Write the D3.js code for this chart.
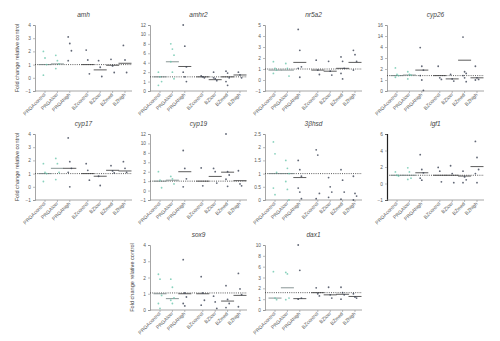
<!DOCTYPE html>
<html>
<head>
<meta charset="utf-8">
<script src="https://cdn.jsdelivr.net/npm/d3@7"></script>
<style>
  html, body { margin: 0; padding: 0; background: #fff; }
  svg { display: block; font-family: "Liberation Sans", Arial, sans-serif; }
</style>
</head>
<body>
<svg id="chart" width="500" height="341"></svg>
<script>
// Treatment groups on every panel's x axis
const groups = ["PRGAcontrol", "PRGAlow", "PRGAhigh", "BZcontrol", "BZlow", "BZmed", "BZhigh"];
const genes = ["amh", "amhr2", "nr5a2", "cyp26", "cyp17", "cyp19", "3βhsd", "igf1", "sox9", "dax1"];

// y tick values per gene (evenly spaced on the axis, including broken-axis steps)
const amhTicks   = [-1, 0, 1, 2, 3, 4];
const amhr2Ticks = [0, 1, 2, 4, 6, 8, 10, 12];
const nr5a2Ticks = [-1, 0, 1, 2, 3, 4, 5];
const cyp26Ticks = [0, 1, 2, 3, 4, 14, 16];
const cyp17Ticks = [-1, 0, 1, 2, 3, 4];
const cyp19Ticks = [-1, 0, 1, 2, 3, 8, 10, 12];
const hsdTicks   = [0, 0.5, 1, 1.5, 2, 2.5];
const igf1Ticks  = [-1, 0, 2, 4, 6];
const sox9Ticks  = [0, 1, 2, 3, 4];
const dax1Ticks  = [0, 1, 2, 3, 6, 8, 10];

// Fold-change values per group (one inner array per treatment group)
const amhValues   = [[2.0, 1.5, 1.0, 0.2], [1.7, 1.3, 1.05, 0.7], [3.1, 2.6, 2.05, 1.3], [2.1, 1.35, 0.3], [1.3, 0.8, 0.1], [1.4, 0.9, 0.4], [2.45, 1.35, 0.4]];
const amhr2Values = [[2.0, 1.5, 1.0, 0.6], [8.0, 6.9, 5.6, 4.2, 2.0, 1.3], [12.0, 7.5, 3.1, 2.0, 1.5, 1.0], [1.6, 1.5, 1.4], [2.0, 1.3, 1.1, 1.4], [2.2, 1.9, 1.4, 1.0, 0.6], [2.0, 1.7, 1.4]];
const nr5a2Values = [[1.67, 1.06, 0.9, 0.6], [1.5, 1.06, 0.36], [4.6, 2.7, 1.2, 1.06, 0.25], [1.8, 0.9, 0.5], [1.7, 0.8, 0.45], [2.1, 1.7, 1.06, 0.6, 0.1], [2.7, 2.3, 1.7, 0.9]];
const cyp26Values = [[2.1, 1.5, 1.4, 1.25], [1.75, 1.5, 1.45, 1.1], [3.95, 2.25, 1.9, 1.4, 1.0, 0.05], [2.25, 1.2, 1.05], [1.5, 1.1, 0.9], [13.0, 1.75, 1.6, 1.4, 1.2, 0.85], [2.25, 1.2, 1.05, 1.0]];
const cyp17Values = [[1.75, 1.1, 1.0, 0.4], [2.15, 1.75, 1.1, 0.55], [3.7, 1.9, 1.4, 1.1, 0.0], [1.75, 1.25, 0.5], [0.8, 0.1], [1.6, 1.2, 1.05], [1.9, 1.4, 1.1]];
const cyp19Values = [[2.0, 1.1, 0.3], [1.5, 1.25, 0.7], [8.5, 2.35, 1.25, 0.4], [2.4, 0.5], [2.35, 2.0, 0.8], [12.0, 2.0, 1.65, 1.2, 0.45], [2.1, 0.7, 0.5]];
const hsdValues   = [[2.2, 1.75, 1.05, 0.45, 0.2], [1.5, 1.2, 1.0, 0.7, 0.4, 0.0], [1.5, 1.15, 0.9, 0.45, 0.3, 0.05], [1.9, 1.7, 0.25, 0.05], [0.85, 0.5, 0.3, 0.1], [1.15, 0.75, 0.3, 0.03], [0.9, 0.25, 0.15, 0.0]];
const igf1Values  = [[1.4, 1.0, 0.9], [1.9, 1.4, 0.65, 0.5], [3.5, 1.7, 1.3, 0.65, 0.4], [1.95, 1.5, 0.2], [2.15, 1.2, 0.1], [1.5, 0.8, 0.45, 0.1], [5.1, 3.15, 1.7, 1.2, 0.1]];
const sox9Values  = [[2.2, 1.9, 0.9, 0.4, 0.1], [1.9, 1.4, 0.75, 0.6, 0.4], [3.1, 1.05, 0.8, 0.4, 0.25], [2.05, 1.05, 0.6, 0.3], [0.85, 0.5, 0.1], [1.5, 0.65, 0.4, 0.15], [2.25, 1.3, 0.95, 0.2]];
const dax1Values  = [[4.6, 1.1, 0.95], [4.4, 4.0, 1.1, 0.95], [10.0, 5.0, 1.1, 1.0], [2.05, 1.5, 1.3], [2.1, 1.4, 1.1], [2.1, 1.6, 1.4, 1.0], [1.5, 1.2, 1.1]];

// Group centre lines (null where no line is drawn)
const amhCentres   = [1.0, 1.05, null, 1.0, 0.6, 0.95, 1.1];
const amhr2Centres = [1.5, 4.2, 3.2, 1.5, 1.2, 1.5, 1.7];
const nr5a2Centres = [0.9, 0.9, 1.6, 0.9, 0.8, 1.06, 1.6];
const cyp26Centres = [1.4, 1.45, 1.9, 1.4, 1.1, 2.8, 1.2];
const cyp17Centres = [1.0, 1.4, 1.4, 1.0, 0.8, 1.25, 1.2];
const cyp19Centres = [1.0, 1.1, 2.0, 1.0, 1.5, 1.95, 1.05];
const hsdCentres   = [1.0, 1.0, 0.85, null, null, null, null];
const igf1Centres  = [1.0, 1.0, 1.3, 1.0, 1.0, 0.9, 2.05];
const sox9Centres  = [1.0, 0.7, 1.0, 1.0, null, 0.55, 0.9];
const dax1Centres  = [1.1, 2.05, 1.05, 1.6, 1.4, 1.45, 1.25];

// Dotted reference level per gene
const refLevels = [1.0, 1.5, 1.0, 1.4, 1.0, 1.0, 1.0, 1.0, 1.05, 1.6];

const tickSets   = [amhTicks, amhr2Ticks, nr5a2Ticks, cyp26Ticks, cyp17Ticks, cyp19Ticks, hsdTicks, igf1Ticks, sox9Ticks, dax1Ticks];
const valueSets  = [amhValues, amhr2Values, nr5a2Values, cyp26Values, cyp17Values, cyp19Values, hsdValues, igf1Values, sox9Values, dax1Values];
const centreSets = [amhCentres, amhr2Centres, nr5a2Centres, cyp26Centres, cyp17Centres, cyp19Centres, hsdCentres, igf1Centres, sox9Centres, dax1Centres];

// Panel placement: y-axis x position, top tick, x-axis y position
const colX = [35, 150, 265, 387];
const rows = [{ top: 25, bottom: 91 }, { top: 134, bottom: 200 }, { top: 245, bottom: 310 }];
const panels = [
  { c: 0, r: 0 }, { c: 1, r: 0 }, { c: 2, r: 0 }, { c: 3, r: 0 },
  { c: 0, r: 1 }, { c: 1, r: 1 }, { c: 2, r: 1 }, { c: 3, r: 1 },
  { c: 1, r: 2 }, { c: 2, r: 2 }
];
const yLabelPanels = [0, 4, 8];
const plotWidth = 97;
const slotPositions = [0, 1, 2, 3.45, 4.45, 5.45, 6.45];

const teal = "#6cc7ad";
const dark = "#3a4152";
const axisColor = "#8f8f8f";
const textColor = "#5a5a5a";

const svg = d3.select("#chart");

panels.forEach((p, i) => {
  const x0 = colX[p.c];
  const { top, bottom } = rows[p.r];
  const ticks = tickSets[i];
  const values = valueSets[i];
  const centres = centreSets[i];

  const g = svg.append("g");

  // Evenly spaced ticks (polylinear to allow broken axes)
  const y = d3.scaleLinear()
    .domain(ticks)
    .range(ticks.map((t, k) => bottom - (bottom - top) * k / (ticks.length - 1)));

  const x = d3.scaleLinear()
    .domain([0, 6.45])
    .range([x0 + 10, x0 + 90]);

  // Title
  g.append("text")
    .attr("x", x0 + plotWidth / 2)
    .attr("y", top - 8)
    .attr("text-anchor", "middle")
    .attr("font-size", 6.5)
    .attr("font-style", "italic")
    .attr("fill", "#444")
    .text(genes[i]);

  // Y axis
  const yAxis = d3.axisLeft(y).tickValues(ticks).tickSize(2).tickPadding(2)
    .tickFormat(d3.format("~g"));
  const ya = g.append("g").attr("transform", `translate(${x0},0)`).call(yAxis);
  ya.select(".domain").attr("stroke", i === 7 ? "#222" : axisColor).attr("stroke-width", i === 7 ? 1.2 : 0.8);
  ya.selectAll(".tick line").attr("stroke", axisColor).attr("stroke-width", 0.6);
  ya.selectAll(".tick text").attr("font-size", 4.8).attr("fill", textColor)
    .attr("font-family", "Liberation Sans, Arial, sans-serif");

  // X axis with group labels
  const xa = g.append("g").attr("transform", `translate(0,${bottom})`);
  xa.append("line")
    .attr("x1", x0).attr("x2", x0 + plotWidth)
    .attr("stroke", axisColor).attr("stroke-width", 0.8);
  groups.forEach((name, k) => {
    const gx = x(slotPositions[k]);
    xa.append("line").attr("x1", gx).attr("x2", gx).attr("y1", 0).attr("y2", 2)
      .attr("stroke", axisColor).attr("stroke-width", 0.6);
    xa.append("text")
      .attr("transform", `translate(${gx + 1},${4}) rotate(-45)`)
      .attr("text-anchor", "end")
      .attr("font-size", 5)
      .attr("fill", textColor)
      .text(name);
  });

  // Reference level
  g.append("line")
    .attr("x1", x0).attr("x2", x0 + plotWidth)
    .attr("y1", y(refLevels[i])).attr("y2", y(refLevels[i]))
    .attr("stroke", "#333").attr("stroke-width", 0.8)
    .attr("stroke-dasharray", "1,1.2");

  // Centre lines
  centres.forEach((c, k) => {
    if (c === null) return;
    const gx = x(slotPositions[k]);
    g.append("line")
      .attr("x1", gx - 6.5).attr("x2", gx + 6.5)
      .attr("y1", y(c)).attr("y2", y(c))
      .attr("stroke", k < 2 ? "#6a7a78" : "#333")
      .attr("stroke-width", 0.8);
  });

  // Points
  values.forEach((vals, k) => {
    const gx = x(slotPositions[k]);
    g.selectAll(null)
      .data(vals)
      .join("circle")
      .attr("cx", (d, j) => gx + ((j % 3) - 1) * 1.6)
      .attr("cy", d => y(d))
      .attr("r", 0.9)
      .attr("fill", k < 2 ? teal : dark)
      .attr("opacity", 0.8);
  });

  // Y-axis title on the leftmost panel of each row
  if (yLabelPanels.includes(i)) {
    g.append("text")
      .attr("transform", `translate(${x0 - 16},${(top + bottom) / 2}) rotate(-90)`)
      .attr("text-anchor", "middle")
      .attr("font-size", 5.6)
      .attr("fill", "#444")
      .text("Fold change relative control");
  }
});
</script>
</body>
</html>
